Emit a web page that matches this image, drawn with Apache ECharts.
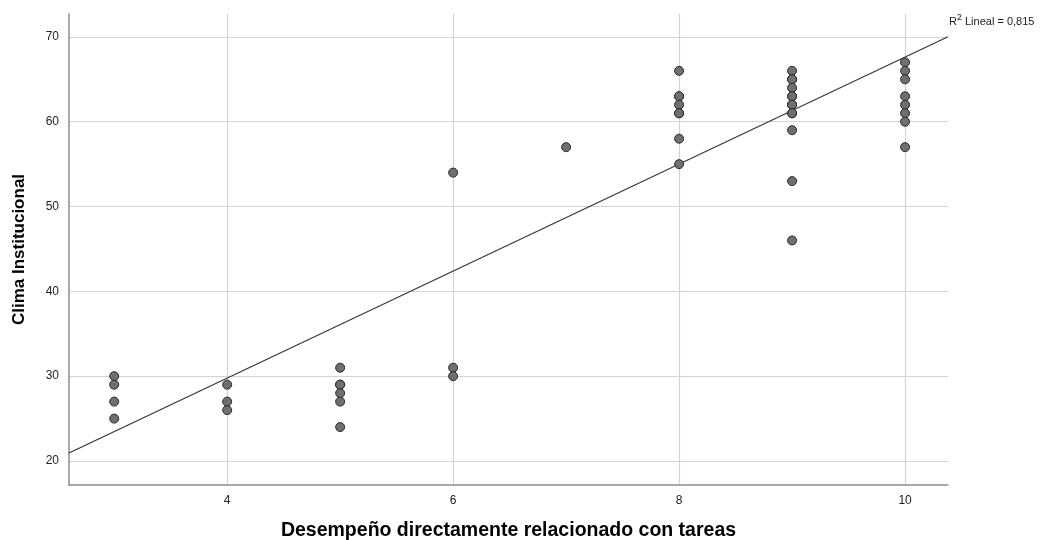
<!DOCTYPE html>
<html>
<head>
<meta charset="utf-8">
<script src="https://cdn.jsdelivr.net/npm/echarts@6/dist/echarts.min.js"></script>
<style>
  html, body { margin: 0; padding: 0; background: #fff; }
  #chart { width: 1055px; height: 540px; }
</style>
</head>
<body>
<div id="chart"></div>
<script>
// Desempeño (x) vs. Clima Institucional (y), one point per respondent
const desempeno = [
  3, 3, 3, 3,
  4, 4, 4,
  5, 5, 5, 5, 5, 5,
  6, 6, 6,
  7,
  8, 8, 8, 8, 8, 8, 8, 8,
  9, 9, 9, 9, 9, 9, 9, 9, 9, 9, 9, 9, 9,
  10, 10, 10, 10, 10, 10, 10, 10
];
const clima = [
  30, 29, 27, 25,
  29, 27, 26,
  31, 29, 29, 28, 27, 24,
  54, 31, 30,
  57,
  66, 63, 63, 62, 61, 61, 58, 55,
  66, 65, 65, 64, 63, 63, 62, 62, 61, 61, 59, 53, 46,
  67, 66, 65, 63, 62, 61, 60, 57
];
const xTicks = [4, 6, 8, 10];
const yTicks = [20, 30, 40, 50, 60, 70];
const xRange = [2.6, 10.38];
const yRange = [17.17, 72.7];

// linear fit reported for the data: y = intercept + slope * x, R² = 0,815
const fitIntercept = 4.53;
const fitSlope = 6.31;
const r2Text = '0,815';

const fitLine = xRange.map(x => [x, fitIntercept + fitSlope * x]);
const points = desempeno.map((x, i) => [x, clima[i]]);

const font = '"Liberation Sans", Arial, sans-serif';

const chart = echarts.init(document.getElementById('chart'));
chart.setOption({
  animation: false,
  backgroundColor: '#ffffff',
  grid: { left: 69, right: 107, top: 14, bottom: 55, containLabel: false, outerBoundsMode: 'none' },
  xAxis: {
    type: 'value',
    min: xRange[0], max: xRange[1],
    name: 'Desempeño directamente relacionado con tareas',
    nameLocation: 'middle', nameGap: 36,
    nameTextStyle: { fontFamily: font, fontWeight: 'bold', fontSize: 19.5, color: '#000' },
    axisLine: { show: true, onZero: false, lineStyle: { color: '#8c8c8c', width: 1.5 } },
    axisTick: { show: false, customValues: xTicks },
    axisLabel: { customValues: xTicks, fontFamily: font, fontSize: 12, color: '#222', margin: 10 },
    splitLine: { show: true, lineStyle: { color: '#d3d3d3', width: 1.2 } }
  },
  yAxis: {
    type: 'value',
    min: yRange[0], max: yRange[1],
    name: 'Clima Institucional',
    nameLocation: 'middle', nameGap: 41,
    nameTextStyle: { fontFamily: font, fontWeight: 'bold', fontSize: 17, color: '#000' },
    axisLine: { show: true, onZero: false, lineStyle: { color: '#8c8c8c', width: 1.5 } },
    axisTick: { show: false, customValues: yTicks },
    axisLabel: { customValues: yTicks, fontFamily: font, fontSize: 12, color: '#222', margin: 10 },
    splitLine: { show: true, lineStyle: { color: '#d3d3d3', width: 1.2 } }
  },
  series: [
    {
      type: 'line',
      data: fitLine,
      showSymbol: false,
      silent: true,
      lineStyle: { color: '#333', width: 1.1 },
      z: 3
    },
    {
      type: 'scatter',
      data: points,
      symbol: 'circle',
      symbolSize: 9,
      itemStyle: { color: '#6f6f6f', borderColor: '#2a2a2a', borderWidth: 1, opacity: 1 },
      z: 4
    }
  ],
  graphic: [{
    type: 'text',
    left: 949, top: 13,
    style: {
      text: '{r|R}{s|2}{r| Lineal = ' + r2Text + '}',
      rich: {
        r: { fontFamily: font, fontSize: 11, fill: '#222', verticalAlign: 'bottom', lineHeight: 14 },
        s: { fontFamily: font, fontSize: 9, fill: '#222', verticalAlign: 'top', lineHeight: 14, padding: [0, 0, 5, 0] }
      }
    }
  }]
});
</script>
</body>
</html>
